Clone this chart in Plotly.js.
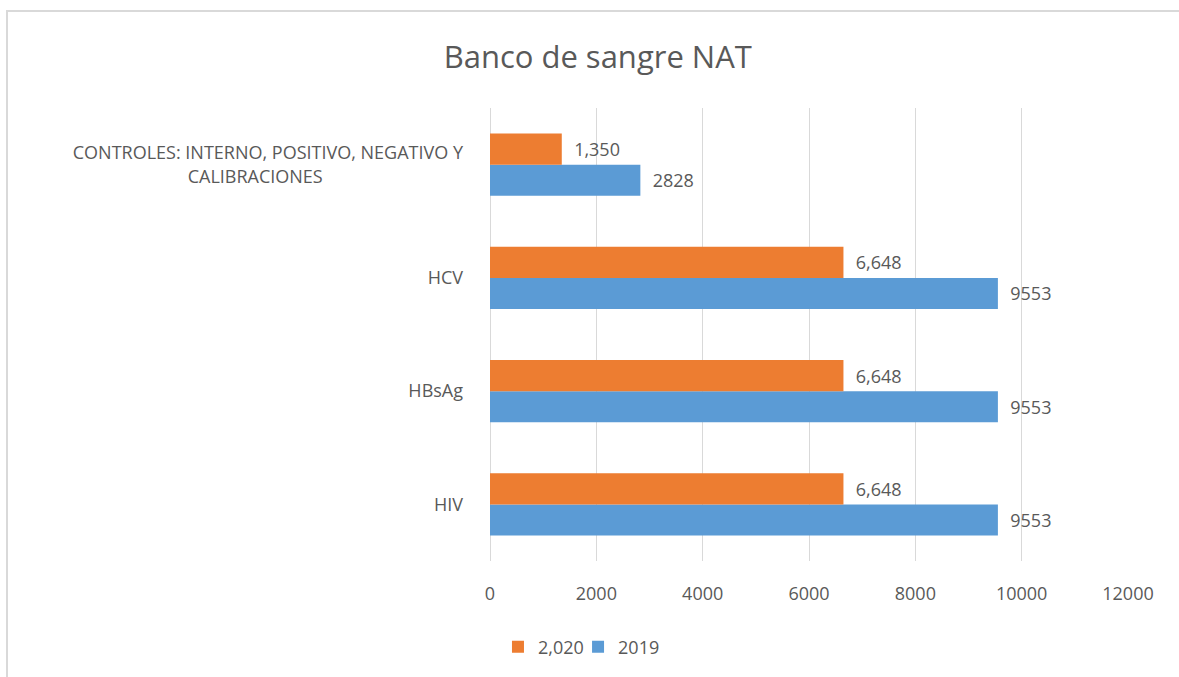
<!DOCTYPE html>
<html>
<head>
<meta charset="utf-8">
<script src="https://cdn.plot.ly/plotly-3.0.1.min.js"></script>
<style>
html,body{margin:0;padding:0;background:#fff;}
#wrap{position:relative;width:1179px;height:677px;}
#chart{width:1179px;height:677px;}
#frame{position:absolute;left:6px;top:10px;width:1179px;height:677px;border-top:2px solid #d9d9d9;border-left:2px solid #d9d9d9;pointer-events:none;}
</style>
</head>
<body>
<div id="wrap"><div id="chart"></div><div id="frame"></div></div>
<script>
const NB = '\u00A0';
const categories = ['HIV', 'HBsAg', 'HCV',
  'CONTROLES: INTERNO, POSITIVO, NEGATIVO Y<br>CALIBRACIONES' + NB.repeat(30)];
const values2020 = [6648, 6648, 6648, 1350];
const labels2020 = ['6,648', '6,648', '6,648', '1,350'];
const values2019 = [9553, 9553, 9553, 2828];
const labels2019 = ['9553', '9553', '9553', '2828'];
const xTicks = [0, 2000, 4000, 6000, 8000, 10000, 12000];

const FONT = 'Open Sans, Noto Sans, sans-serif';
const GRAY = '#595959';

const traces = [
  {
    type: 'bar', orientation: 'h', name: '2019', legend: 'legend2',
    y: categories, x: values2019, text: labels2019,
    texttemplate: NB + NB + '%{text}',
    textposition: 'outside', cliponaxis: false,
    textfont: {family: FONT, size: 18, color: GRAY},
    marker: {color: '#5B9BD5'}, hoverinfo: 'x'
  },
  {
    type: 'bar', orientation: 'h', name: '2,020', legend: 'legend',
    y: categories, x: values2020, text: labels2020,
    texttemplate: NB + NB + '%{text}',
    textposition: 'outside', cliponaxis: false,
    textfont: {family: FONT, size: 18, color: GRAY},
    marker: {color: '#ED7D31'}, hoverinfo: 'x'
  }
];

const legendBase = {orientation: 'h', xanchor: 'left', y: -0.19, yanchor: 'middle',
  itemwidth: 30, bgcolor: 'rgba(0,0,0,0)', font: {family: FONT, size: 18, color: GRAY}};

const layout = {
  width: 1179, height: 677,
  margin: {l: 490, r: 51, t: 108, b: 112},
  paper_bgcolor: '#fff', plot_bgcolor: '#fff',
  font: {family: FONT, color: GRAY, size: 18},
  title: {text: 'Banco de sangre NAT', font: {family: FONT, size: 31, color: GRAY},
          x: 0.507, xref: 'container', xanchor: 'center', y: 0.915, yref: 'container', yanchor: 'middle'},
  barmode: 'group', bargap: 0.45, bargroupgap: 0,
  xaxis: {
    range: [0, 12000], tickvals: xTicks, ticktext: xTicks.map(String),
    showgrid: true, gridcolor: '#d9d9d9', gridwidth: 1,
    zeroline: true, zerolinecolor: '#d9d9d9', zerolinewidth: 1,
    showline: false, ticks: '', ticklabelstandoff: 20,
    tickfont: {family: FONT, size: 18, color: GRAY}, fixedrange: true
  },
  yaxis: {
    type: 'category', categoryorder: 'array', categoryarray: categories,
    showgrid: false, zeroline: false, showline: false, ticks: '',
    ticklabelstandoff: 26,
    tickfont: {family: FONT, size: 18, color: GRAY}, fixedrange: true
  },
  showlegend: true,
  legend: Object.assign({}, legendBase, {x: 0.0125}),
  legend2: Object.assign({}, legendBase, {x: 0.138})
};

Plotly.newPlot('chart', traces, layout, {displayModeBar: false, staticPlot: true});
</script>
</body>
</html>
